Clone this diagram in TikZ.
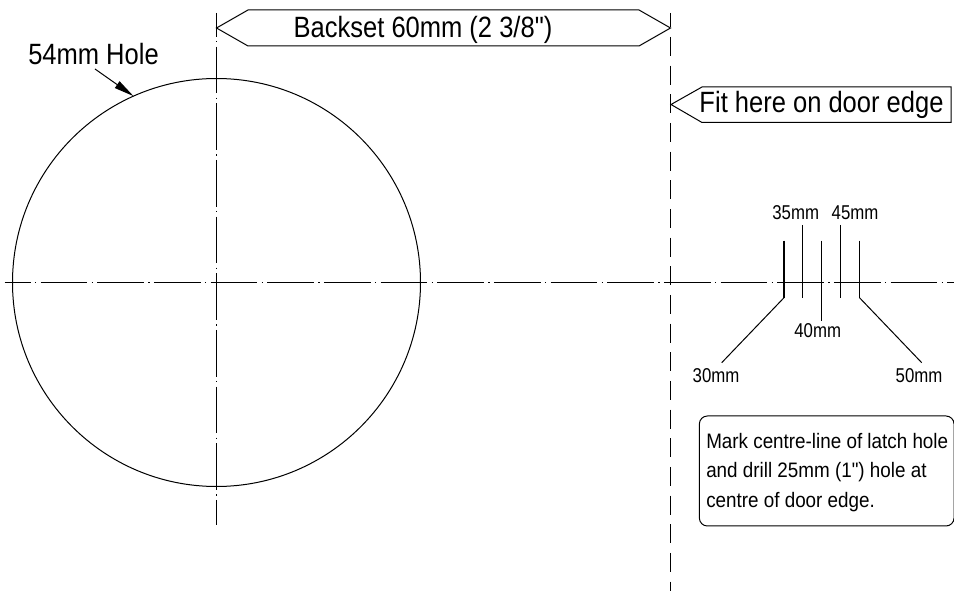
\documentclass[tikz,border=0pt]{standalone}
\usepackage{fontspec}
\setmainfont{Liberation Sans}
\newfontfamily\bigfont[FakeStretch=0.87]{Liberation Sans}
\newfontfamily\smallfont[FakeStretch=0.84]{Liberation Sans}
\newfontfamily\notefont[FakeStretch=0.90]{Liberation Sans}
\usetikzlibrary{arrows.meta}
\tikzset{
  ink/.style={draw=black,line width=.75pt,line join=miter},
  centreline/.style={ink,line width=.7pt,dash pattern=on 35pt off 3.2pt on 1.1pt off 3.2pt},
  edgeline/.style={ink,line width=.7pt,dash pattern=on 14.25pt off 7.25pt,dash phase=3.5pt},
  tick/.style={ink,line width=.9pt},
  biglabel/.style={inner sep=0pt,font=\bigfont\fontsize{22}{26}\selectfont},
  smalllabel/.style={inner sep=0pt,font=\smallfont\fontsize{15}{18}\selectfont},
  notebox/.style={ink,rounded corners=6pt,inner sep=0pt,minimum width=191pt,minimum height=82.5pt},
  notetext/.style={inner sep=0pt,align=left,font=\notefont\fontsize{15.7}{22.3}\selectfont},
}
\begin{document}
\begin{tikzpicture}[x=.75pt,y=-.75pt]
\useasboundingbox (0,0) rectangle (954,591);
% hole
\node[ink,circle,minimum size=306pt,inner sep=0pt,outer sep=0pt] (hole) at (216.5,282.5) {};
% centre lines
\coordinate (hL) at (4.5,282.5);
\coordinate (hR) at (954,282.5);
\coordinate (vT) at (216.5,13);
\coordinate (vB) at (216.5,525);
\draw[centreline,dash phase=15.4pt] (hL) -- (hR);
\draw[centreline,dash phase=17.25pt] (vT) -- (vB);
% door edge
\coordinate (eT) at (670.5,13);
\coordinate (eB) at (670.5,591);
\draw[edgeline] (eT) -- (eB);
% backset arrow
\draw[ink] (216.5,28) -- (248,10) -- (639,10) -- (670.5,28) -- (639,46) -- (248,46) -- cycle;
\node[biglabel] (backset) at (423,30) {Backset 60mm (2 3/8")};
% fit here
\draw[ink] (951,87) -- (702,87) -- (671,104.5) -- (702,122.5) -- (951,122.5) -- cycle;
\node[biglabel] (fit) at (821.5,105) {Fit here on door edge};
% hole label
\node[biglabel] (holelabel) at (93.5,54) {54mm Hole};
\coordinate (holetail) at (95,69);
\draw[ink,-{Stealth[inset=0pt,length=15pt,width=6pt]}] (holetail) -- (hole.114.3);
% ticks
\coordinate (a1) at (784,240.7);  \coordinate (a2) at (784,297.7);
\coordinate (b1) at (802.5,225);  \coordinate (b2) at (802.5,297.7);
\coordinate (c1) at (821.5,240.7);\coordinate (c2) at (821.5,320.7);
\coordinate (d1) at (840.5,225);  \coordinate (d2) at (840.5,297.7);
\coordinate (e1) at (859.5,240.7);\coordinate (e2) at (859.5,297.7);
\coordinate (a3) at (721.7,362.7);
\coordinate (e3) at (921.7,362.7);
\draw[tick] (a1) -- (a2);
\draw[tick] (b1) -- (b2);
\draw[tick] (c1) -- (c2);
\draw[tick] (d1) -- (d2);
\draw[tick] (e1) -- (e2);
\draw[ink] (a2) -- (a3);
\draw[ink] (e2) -- (e3);
\node[smalllabel] (l35) at (795.7,212.7) {35mm};
\node[smalllabel] (l45) at (855,212.7) {45mm};
\node[smalllabel] (l40) at (817.7,331) {40mm};
\node[smalllabel] (l30) at (716,376) {30mm};
\node[smalllabel] (l50) at (919,376) {50mm};
% note
\node[notebox] (note) at (826.7,471) {};
\node[notetext,anchor=west] (notecopy) at (706,472.5) {Mark centre-line of latch hole\\and drill 25mm (1") hole at\\centre of door edge.};
\end{tikzpicture}
\end{document}
